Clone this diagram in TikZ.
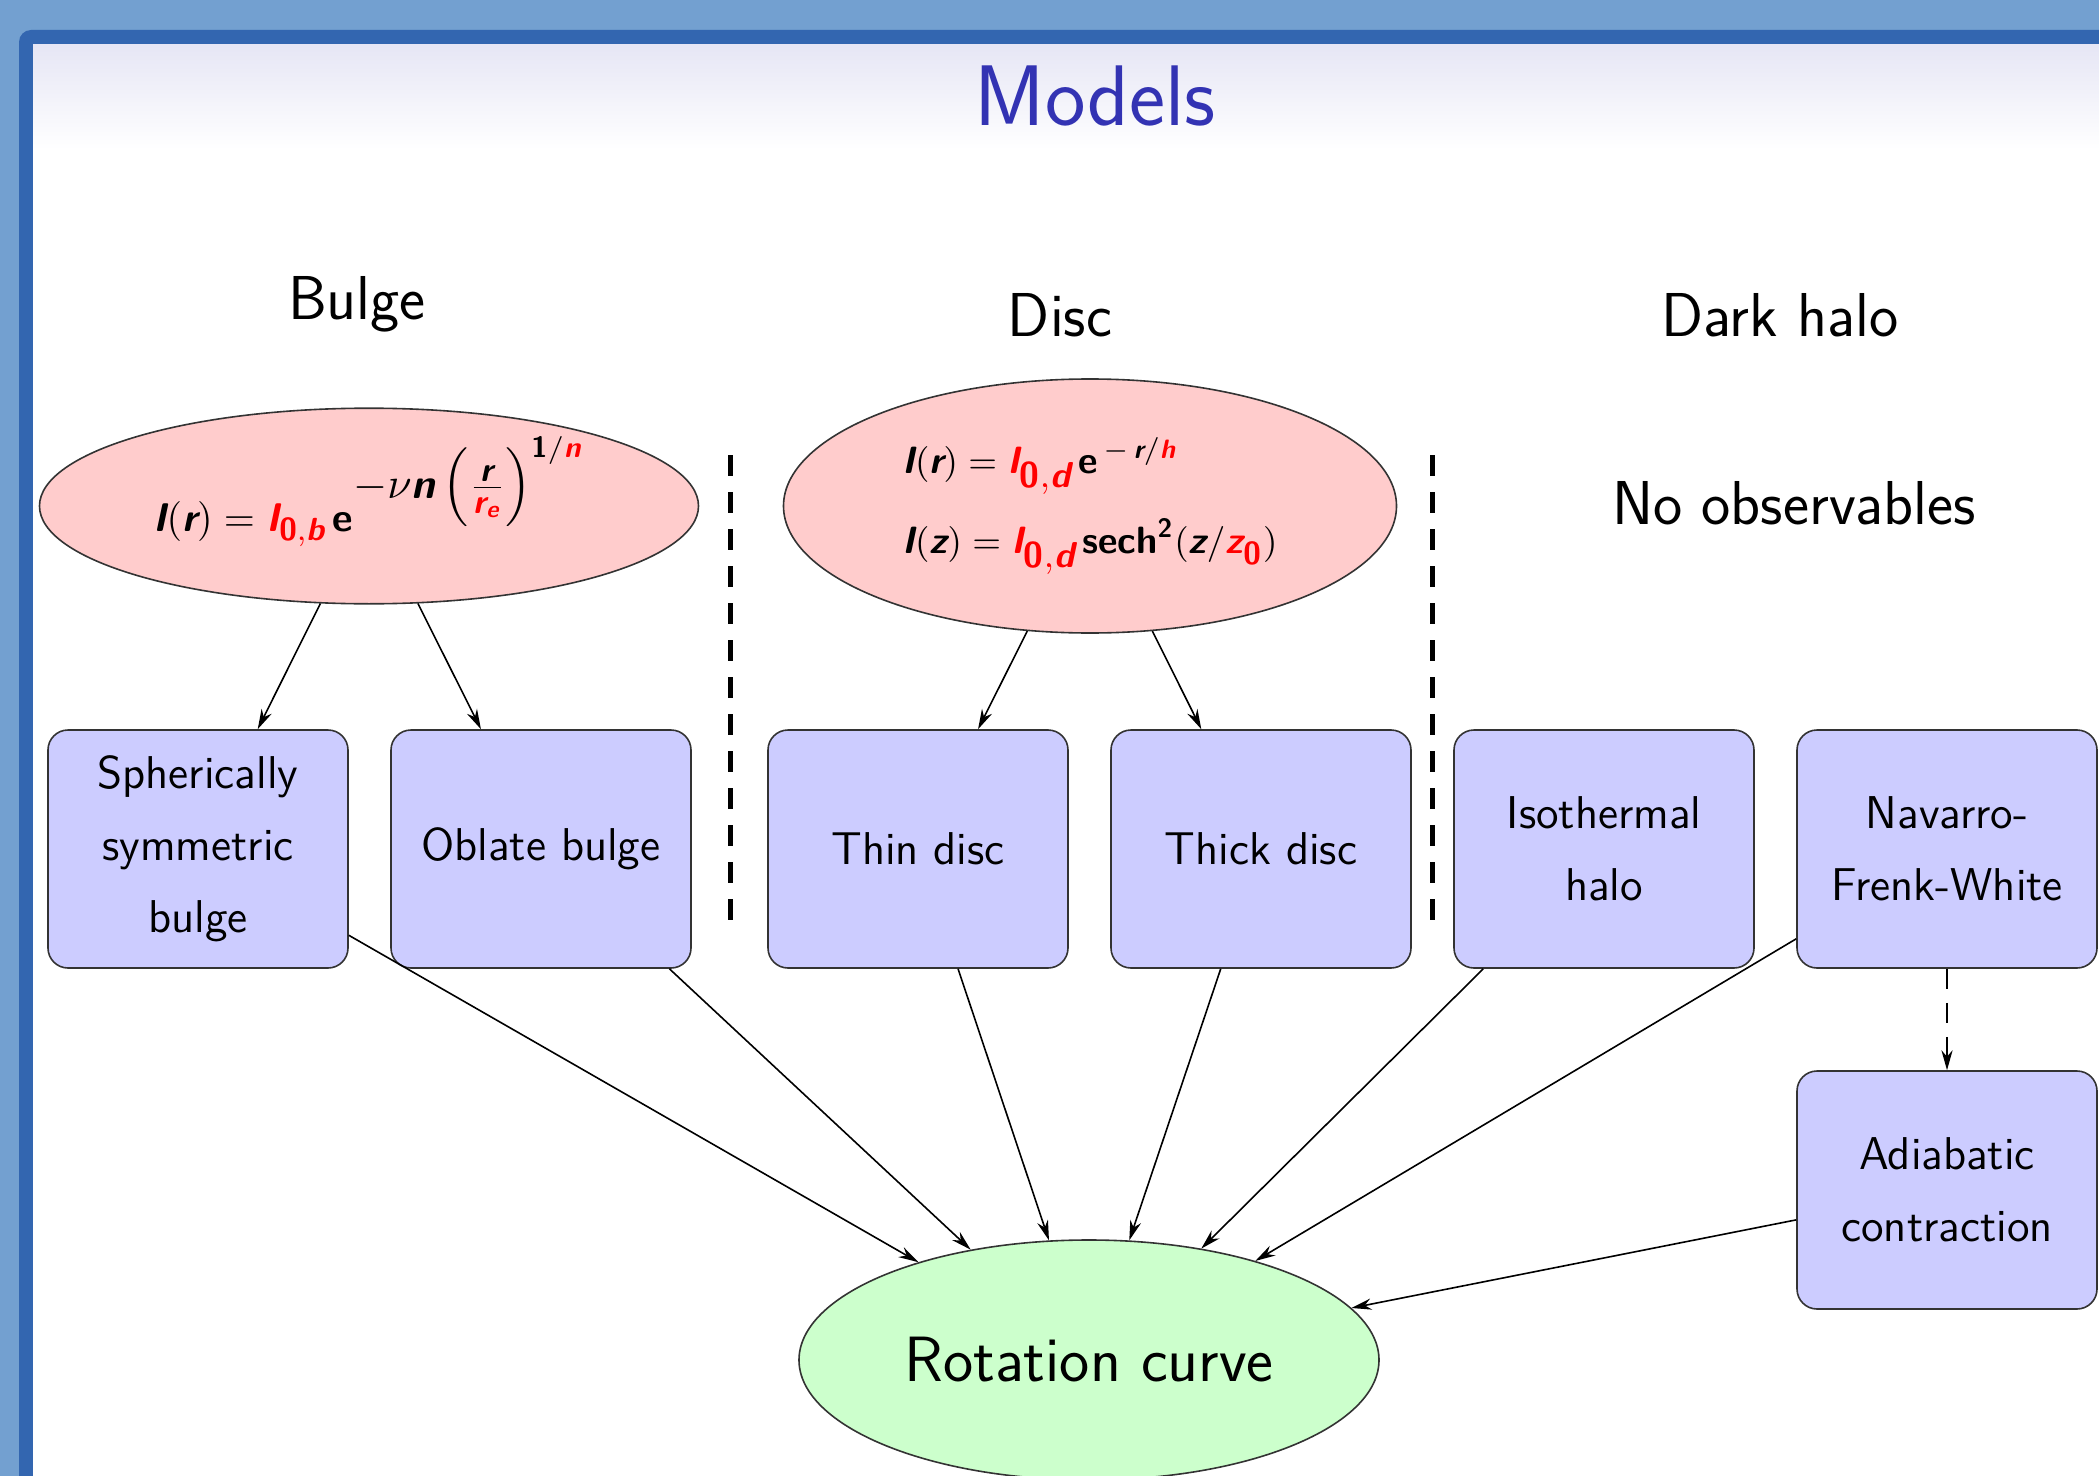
\documentclass[tikz,border=0pt]{standalone}
\usepackage{amsmath}
\usepackage{tikz}
\usetikzlibrary{arrows.meta,shapes.geometric}

\definecolor{frameout}{RGB}{115,160,208}
\definecolor{framein}{RGB}{51,102,176}
\definecolor{titlebg}{RGB}{230,230,245}
\definecolor{titlefg}{RGB}{51,51,179}
\newcommand{\fv}[1]{\textsf{\bfseries\slshape #1}}
\newcommand{\fu}[1]{\textsf{\bfseries #1}}
\newcommand{\fsz}[2]{\mbox{\fontsize{#1}{#1}\selectfont$#2$}}

\begin{document}
\begin{tikzpicture}[x=0.25pt,y=-0.25pt,font=\sffamily,
  head/.style={font=\sffamily\fontsize{15.5}{18}\selectfont},
  formula/.style={ellipse,draw=black!80,fill=red!20,inner sep=0pt,align=left,
    font=\fontsize{10}{20}\selectfont},
  model/.style={rectangle,rounded corners=5pt,draw=black!80,fill=blue!20,
    minimum width=75pt,minimum height=59.5pt,align=center,
    font=\sffamily\fontsize{11.5}{18}\selectfont},
  feed/.style={-{Stealth[length=5pt,width=2.8pt]},line width=0.4pt},
  divider/.style={line width=1.25pt,dash pattern=on 5.25pt off 4pt}]
  \useasboundingbox (0,0) rectangle (2099,1476);
  % slide frame
  \fill[frameout] (0,0) rectangle (2099,1476);
  \fill[framein,rounded corners=3pt] (19,30) rectangle (2300,1700);
  \fill[white] (33,45) rectangle (2099,1476);
  \shade[top color=titlebg,bottom color=white] (33,45) rectangle (2099,150);
  \node[text=titlefg,font=\sffamily\fontsize{21.5}{24}\selectfont] (title) at (1095,96) {Models};
  % column heads
  \node[head] (bulgehead) at (357,304) {Bulge};
  \node[head] (dischead) at (1060,315) {Disc};
  \node[head] (halohead) at (1780,315) {Dark halo};
  \node[head] (noobs) at (1794,503) {No observables};
  % light profiles
  \node[formula,minimum width=164.75pt,minimum height=45.5pt,text depth=11pt] (bulgelaw) at (369,506)
    {$\fv{I}(\fv{r}) = \textcolor{red}{\fv{I}_{\fsz{8}{\fu{0}{,}\fv{b}}}}\,\fu{e}^{\fsz{10.5}{-\nu\fv{n}\left(\frac{\fsz{8.5}{\fv{r}}}{\fsz{8.5}{\textcolor{red}{\fv{r}_{\fv{e}}}}}\right)^{\fu{1}/\textcolor{red}{\fv{n}}}}}$};
  \node[formula,minimum width=153.25pt,minimum height=63.5pt,font=\fontsize{9.5}{20}\selectfont] (disclaw) at (1090,506)
    {$\fv{I}(\fv{r}) = \textcolor{red}{\fv{I}_{\fsz{9}{\fu{0}{,}\fv{d}}}}\,\fu{e}^{\,-\,\fv{r}/\textcolor{red}{\fv{h}}}$\\
     $\fv{I}(\fv{z}) = \textcolor{red}{\fv{I}_{\fsz{9}{\fu{0}{,}\fv{d}}}}\,\fu{sech}^{\fu{2}}(\fv{z}/\textcolor{red}{\fv{z}_{\fsz{8}{\fu{0}}}})$};
  % dividers
  \draw[divider] (730,455) -- (730,933);
  \draw[divider] (1432,455) -- (1432,933);
  % model boxes
  \node[model] (sph) at (198,849) {Spherically\\symmetric\\bulge};
  \node[model] (obl) at (541,849) {Oblate bulge};
  \node[model] (thin) at (918,849) {Thin disc};
  \node[model] (thick) at (1261,849) {Thick disc};
  \node[model] (iso) at (1604,849) {Isothermal\\halo};
  \node[model] (nfw) at (1947,849) {Navarro-\\Frenk-White};
  \node[model] (adiab) at (1947,1190) {Adiabatic\\contraction};
  % rotation curve
  \node[ellipse,draw=black!80,fill=green!20,minimum width=145pt,minimum height=60pt,
    font=\sffamily\fontsize{16}{18}\selectfont] (rot) at (1089,1360) {Rotation curve};
  % arrows
  \draw[feed] (bulgelaw) -- (sph);
  \draw[feed] (bulgelaw) -- (obl);
  \draw[feed] (disclaw) -- (thin);
  \draw[feed] (disclaw) -- (thick);
  \draw[feed,dash pattern=on 5pt off 3.5pt] (nfw) -- (adiab);
  \draw[feed] (sph) -- (rot);
  \draw[feed] (obl) -- (rot);
  \draw[feed] (thin) -- (rot);
  \draw[feed] (thick) -- (rot);
  \draw[feed] (iso) -- (rot);
  \draw[feed] (nfw) -- (rot);
  \draw[feed] (adiab) -- (rot);
\end{tikzpicture}
\end{document}
